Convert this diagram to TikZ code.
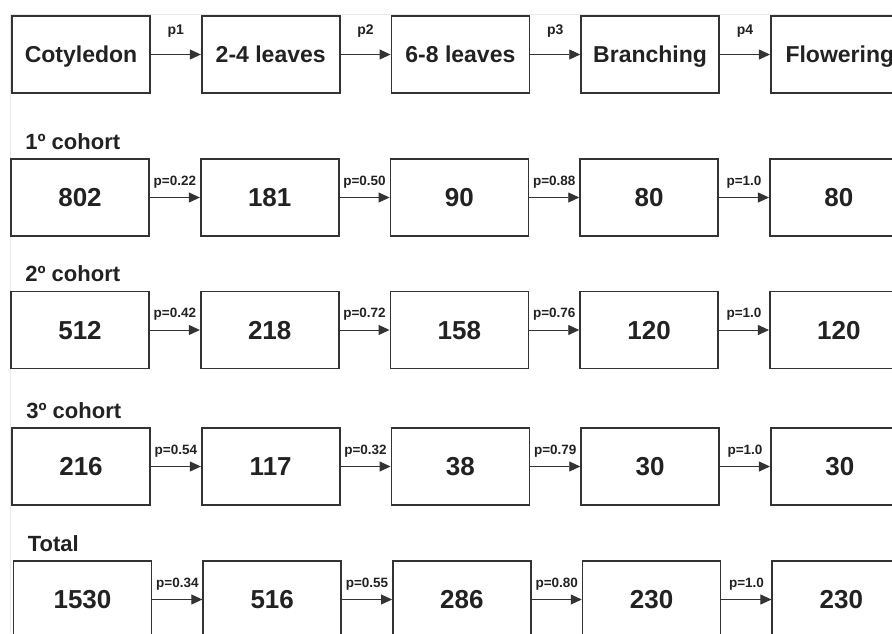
\documentclass[tikz,border=0pt]{standalone}
\usepackage{fontspec}
\setmainfont{Liberation Sans}
\usetikzlibrary{arrows.meta, positioning}
\definecolor{linegray}{HTML}{333333}
\definecolor{textgray}{HTML}{222222}
\definecolor{framegray}{HTML}{E8E8E8}
\tikzset{%
	stage/.style={
		rectangle,
		draw=linegray,
		line width=1.7pt,
		minimum width=138pt,
		minimum height=77pt,
		inner sep=0pt,
		text height=16.5pt,
		text depth=0pt,
		text=textgray,
		font=\fontsize{23}{27}\selectfont\bfseries
	},
	count/.style={
		stage,
		text height=18.6pt,
		font=\fontsize{26}{31}\selectfont\bfseries
	},
	trans/.style={
		draw=linegray,
		line width=0.9pt,
		-{Triangle[length=11pt,width=10pt]}
	},
	prob/.style={
		above,
		inner sep=2pt,
		yshift=7pt,
		text=textgray,
		font=\fontsize{13.5}{16}\selectfont\bfseries
	},
	cohort/.style={
		anchor=base west,
		inner sep=0pt,
		text=textgray,
		font=\fontsize{22}{26}\selectfont\bfseries
	},
}

\begin{document}
\begin{tikzpicture}[x=1pt, y=1pt, node distance=50pt]
	\useasboundingbox (0,0) rectangle (892,-633);
	\draw[framegray, line width=0.8pt] (10,-633) -- (10,-14) -- (892,-14);

	% stages
	\node[stage] (cot) at (81,-54.5) {Cotyledon};
	\node[stage, right=of cot] (lv24) {2-4 leaves};
	\node[stage, right=of lv24] (lv68) {6-8 leaves};
	\node[stage, right=of lv68] (branch) {Branching};
	\node[stage, right=of branch] (flower) {Flowering};
	\draw[trans] (cot) -- node[prob, yshift=8pt, font=\fontsize{14}{17}\selectfont\bfseries] {p1} (lv24);
	\draw[trans] (lv24) -- node[prob, yshift=8pt, font=\fontsize{14}{17}\selectfont\bfseries] {p2} (lv68);
	\draw[trans] (lv68) -- node[prob, yshift=8pt, font=\fontsize{14}{17}\selectfont\bfseries] {p3} (branch);
	\draw[trans] (branch) -- node[prob, yshift=8pt, font=\fontsize{14}{17}\selectfont\bfseries] {p4} (flower);

	% cohorts
	\foreach \row/\x/\y/\lab/\na/\nb/\nc/\nd/\ne/\pa/\pb/\pc/\pd in {
		1/80/-197.5/1º cohort/802/181/90/80/80/0.22/0.50/0.88/1.0,
		2/80/-330/2º cohort/512/218/158/120/120/0.42/0.72/0.76/1.0,
		3/81/-466.5/3º cohort/216/117/38/30/30/0.54/0.32/0.79/1.0,
		4/82.5/-599.5/Total/1530/516/286/230/230/0.34/0.55/0.80/1.0}
	{
		\node[count] (r\row-1) at (\x,\y) {\na};
		\node[count, right=of r\row-1] (r\row-2) {\nb};
		\node[count, right=of r\row-2] (r\row-3) {\nc};
		\node[count, right=of r\row-3] (r\row-4) {\nd};
		\node[count, right=of r\row-4] (r\row-5) {\ne};
		\node[cohort] (lab\row) at ([shift={(15pt,9pt)}]r\row-1.north west) {\lab};
		\draw[trans] (r\row-1) -- node[prob] {p=\pa} (r\row-2);
		\draw[trans] (r\row-2) -- node[prob] {p=\pb} (r\row-3);
		\draw[trans] (r\row-3) -- node[prob] {p=\pc} (r\row-4);
		\draw[trans] (r\row-4) -- node[prob] {p=\pd} (r\row-5);
	}
\end{tikzpicture}
\end{document}
